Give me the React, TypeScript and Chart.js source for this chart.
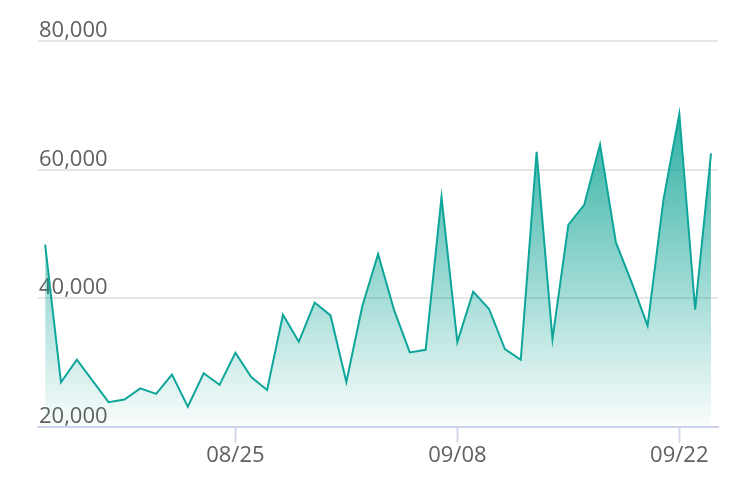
import React, { useEffect, useRef } from "react";
import { Chart, registerables } from "chart.js";

Chart.register(...registerables);

const DATES: string[] = [
  "08/13", "08/14", "08/15", "08/16", "08/17", "08/18", "08/19", "08/20",
  "08/21", "08/22", "08/23", "08/24", "08/25", "08/26", "08/27", "08/28",
  "08/29", "08/30", "08/31", "09/01", "09/02", "09/03", "09/04", "09/05",
  "09/06", "09/07", "09/08", "09/09", "09/10", "09/11", "09/12", "09/13",
  "09/14", "09/15", "09/16", "09/17", "09/18", "09/19", "09/20", "09/21",
  "09/22", "09/23", "09/24",
];

const VALUES: number[] = [
  48300, 26900, 30400, 27100, 23800, 24200, 25950, 25100,
  28100, 23100, 28300, 26500, 31500, 27700, 25700, 37400,
  33200, 39300, 37300, 26950, 38700, 46850, 38200, 31550,
  31950, 55750, 33150, 41000, 38300, 32050, 30400, 62750,
  33600, 51400, 54500, 63900, 48650, 42400, 35700, 55300,
  68650, 38200, 62500,
];

const X_TICK_LABELS: string[] = ["08/25", "09/08", "09/22"];
const Y_TICKS: number[] = [20000, 40000, 60000, 80000];

export default function App() {
  const ref = useRef<HTMLCanvasElement | null>(null);

  useEffect(() => {
    if (!ref.current) return;
    const data = VALUES.map((v, i) => ({ x: i, y: v }));
    const font = { family: "'Open Sans', 'Noto Sans', sans-serif", size: 22 };
    const chart = new Chart(ref.current, {
      type: "line",
      data: {
        datasets: [
          {
            data,
            borderColor: "#0ea69a",
            borderWidth: 2,
            pointRadius: 0,
            tension: 0,
            fill: "start",
            backgroundColor: (ctx: any) => {
              const area = ctx.chart.chartArea;
              if (!area) return "rgba(0,155,140,0.4)";
              const g = ctx.chart.ctx.createLinearGradient(0, area.top, 0, area.bottom);
              g.addColorStop(0, "rgba(0,158,142,1)");
              g.addColorStop(1, "rgba(0,158,142,0.02)");
              return g;
            },
          },
        ],
      },
      options: {
        animation: false,
        responsive: true,
        maintainAspectRatio: false,
        layout: { padding: { left: 28, right: 26, top: 33, bottom: 19 } },
        plugins: { legend: { display: false }, tooltip: { enabled: false } },
        scales: {
          x: {
            type: "linear",
            min: -0.45,
            max: 42.44,
            afterBuildTicks: (axis: any) => {
              axis.ticks = X_TICK_LABELS.map((l) => ({ value: DATES.indexOf(l) }));
            },
            ticks: {
              font,
              color: "#606060",
              padding: 0,
              maxRotation: 0,
              autoSkip: false,
              callback: (v: any) => DATES[Math.round(Number(v))],
            },
            grid: {
              display: true,
              drawOnChartArea: false,
              drawTicks: true,
              tickLength: 16,
              tickColor: "#d3d8ed",
              tickWidth: 2,
            },
            border: { display: true, color: "#cdd2ea", width: 2 },
          },
          y: {
            type: "linear",
            min: 20000,
            max: 80000,
            afterBuildTicks: (axis: any) => {
              axis.ticks = Y_TICKS.map((v) => ({ value: v }));
            },
            ticks: {
              mirror: true,
              padding: 1,
              labelOffset: -10,
              font,
              color: "#606060",
              callback: (v: any) => Number(v).toLocaleString("en-US"),
            },
            grid: { color: "#e6e6e6", lineWidth: 2, drawTicks: false },
            border: { display: false },
          },
        },
      },
    });
    return () => chart.destroy();
  }, []);

  return (
    <div style={{ width: 736, height: 480, position: "relative" }}>
      <canvas ref={ref} />
    </div>
  );
}
